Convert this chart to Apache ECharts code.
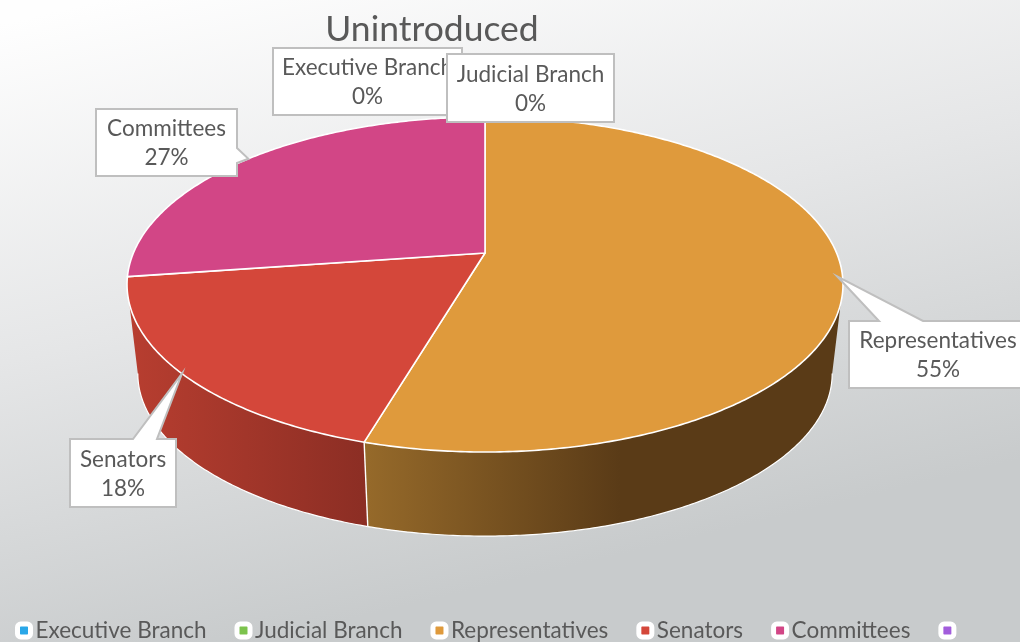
<!DOCTYPE html>
<html>
<head>
<meta charset="utf-8">
<script src="https://cdn.jsdelivr.net/npm/echarts@6/dist/echarts.min.js"></script>
<style>
html, body { margin: 0; padding: 0; }
#main { width: 1020px; height: 642px; }
</style>
</head>
<body>
<div id="main"></div>
<script>
var categories = ['Executive Branch', 'Judicial Branch', 'Representatives', 'Senators', 'Committees', ' '];
var counts = [0, 0, 6, 2, 3, 0];
var topColors = ['#2aa7e8', '#7cc34d', '#df9a3c', '#d4473a', '#d24686', '#a25ddc'];
var wallLeft = ['#2aa7e8', '#7cc34d', '#966a2a', '#b83e30', '#b83e30', '#a25ddc'];
var wallRight = ['#2aa7e8', '#7cc34d', '#5a3b17', '#8c2e24', '#b83e30', '#a25ddc'];
var titleText = 'Unintroduced';

// callout boxes, same order as categories
var boxes = [
    { x: 273, y: 48, w: 189, h: 67 },
    { x: 447, y: 54, w: 167, h: 68 },
    { x: 849, y: 321, w: 180, h: 67, textX: 938, base: [[923, 321], [879, 321]], tipScale: 0.985 },
    { x: 70, y: 439, w: 106, h: 68, base: [[157, 439], [133, 439]], tipScale: 1 },
    { x: 96, y: 109, w: 141, h: 67, base: [[237, 163], [237, 148]], side: true, tipScale: 1 },
    null
];

// tilted disc, perspective around the apex of the pie
var topDisc = { cx: 485, cy: 253, a: 351.6, b: 161.6 };
var bottomDisc = { cx: 485, cy: 343, a: 341, b: 156.8 };
var persp = 0.188;

// the wall only shows between the two widest points of the disc
var frontStart = Math.acos(-persp);
var frontEnd = Math.PI * 2 - frontStart;

var total = 0;
for (var i = 0; i < counts.length; i++) { total += counts[i]; }

function project(disc, theta, scale) {
    var x = Math.sin(theta) * (scale || 1);
    var y = Math.cos(theta) * (scale || 1);
    var w = 1 + persp * y;
    return [disc.cx + disc.a * x / w, disc.cy - disc.b * y / w];
}

function arc(disc, t0, t1) {
    var pts = [];
    var n = Math.max(2, Math.ceil((t1 - t0) / 0.01));
    for (var i = 0; i <= n; i++) {
        pts.push(project(disc, t0 + (t1 - t0) * i / n));
    }
    return pts;
}

function startAngle(index) {
    var sum = 0;
    for (var i = 0; i < index; i++) { sum += counts[i]; }
    return sum / total * Math.PI * 2;
}

function calloutPoints(box, tip) {
    var x0 = box.x, y0 = box.y, x1 = box.x + box.w, y1 = box.y + box.h;
    if (!box.base) {
        return [[x0, y0], [x1, y0], [x1, y1], [x0, y1]];
    }
    if (box.side) {
        return [[x0, y0], [x1, y0], box.base[1], tip, box.base[0], [x1, y1], [x0, y1]];
    }
    return [[x0, y0], box.base[1], tip, box.base[0], [x1, y0], [x1, y1], [x0, y1]];
}

function makeRender(index) {
    return function (params, api) {
        var value = api.value(0);
        var t0 = startAngle(index);
        var t1 = t0 + value / total * Math.PI * 2;
        var children = [];
        if (value > 0) {
            var rimTop = arc(topDisc, t0, t1);
            var w0 = Math.max(t0, frontStart);
            var w1 = Math.min(t1, frontEnd);
            if (w1 > w0) {
                var wallTop = arc(topDisc, w0, w1);
                var wallBottom = arc(bottomDisc, w0, w1);
                var wallFill = new echarts.graphic.LinearGradient(index === 2 ? 364 : 127, 0, index === 2 ? 620 : 364, 0, [
                    { offset: 0, color: wallLeft[index] },
                    { offset: 1, color: wallRight[index] }
                ], true);
                children.push({
                    type: 'polygon',
                    z2: 1,
                    shape: { points: wallTop.concat(wallBottom.slice().reverse()) },
                    style: { fill: wallFill }
                });
                children.push({
                    type: 'polyline',
                    z2: 2,
                    shape: { points: wallBottom },
                    style: { fill: null, stroke: '#ffffff', lineWidth: 1.2 }
                });
                if (w1 === t1) {
                    var last = wallTop.length - 1;
                    children.push({
                        type: 'line',
                        z2: 2,
                        shape: { x1: wallTop[last][0], y1: wallTop[last][1], x2: wallBottom[last][0], y2: wallBottom[last][1] },
                        style: { stroke: '#ffffff', lineWidth: 1.4 }
                    });
                }
            }
            children.push({
                type: 'polygon',
                z2: 5,
                shape: { points: [[topDisc.cx, topDisc.cy]].concat(rimTop) },
                style: { fill: topColors[index], stroke: '#ffffff', lineWidth: 1.6, lineJoin: 'round' }
            });
        }
        var box = boxes[index];
        if (box) {
            var tip = project(topDisc, (t0 + t1) / 2, box.tipScale);
            children.push({
                type: 'polygon',
                z2: 20 + index * 2,
                shape: { points: calloutPoints(box, tip) },
                style: { fill: '#ffffff', stroke: '#bfbfbf', lineWidth: 2, lineJoin: 'miter' }
            });
            children.push({
                type: 'text',
                z2: 21 + index * 2,
                x: box.textX || box.x + box.w / 2,
                y: box.y + box.h / 2 + 1,
                style: {
                    text: categories[index] + '\n' + Math.round(value / total * 100) + '%',
                    fill: '#595959',
                    font: '22.5px Lato',
                    lineHeight: 29,
                    align: 'center',
                    verticalAlign: 'middle'
                }
            });
        }
        return { type: 'group', children: children };
    };
}

var myChart = echarts.init(document.getElementById('main'));

var seriesList = [];
for (var s = 0; s < categories.length; s++) {
    seriesList.push({
        name: categories[s],
        type: 'custom',
        coordinateSystem: 'none',
        silent: true,
        itemStyle: { color: topColors[s] },
        renderItem: makeRender(s),
        data: [[counts[s]]]
    });
}

myChart.setOption({
    animation: false,
    backgroundColor: new echarts.graphic.LinearGradient(0.1, 0, 0.25, 1, [
        { offset: 0, color: '#fefefe' },
        { offset: 0.5, color: '#e5e6e7' },
        { offset: 1, color: '#c8cbcc' }
    ]),
    title: {
        text: titleText,
        left: 427,
        top: 7,
        textAlign: 'center',
        textStyle: { fontFamily: 'Lato', fontSize: 35.5, fontWeight: 'normal', color: '#595959' }
    },
    legend: {
        data: categories,
        left: 10,
        top: 614,
        itemWidth: 13,
        itemHeight: 13,
        itemGap: 28,
        icon: 'roundRect',
        selectedMode: false,
        itemStyle: { borderColor: '#ffffff', borderWidth: 5 },
        textStyle: { fontFamily: 'Lato', fontSize: 22.5, color: '#595959' }
    },
    series: seriesList
});
</script>
</body>
</html>
